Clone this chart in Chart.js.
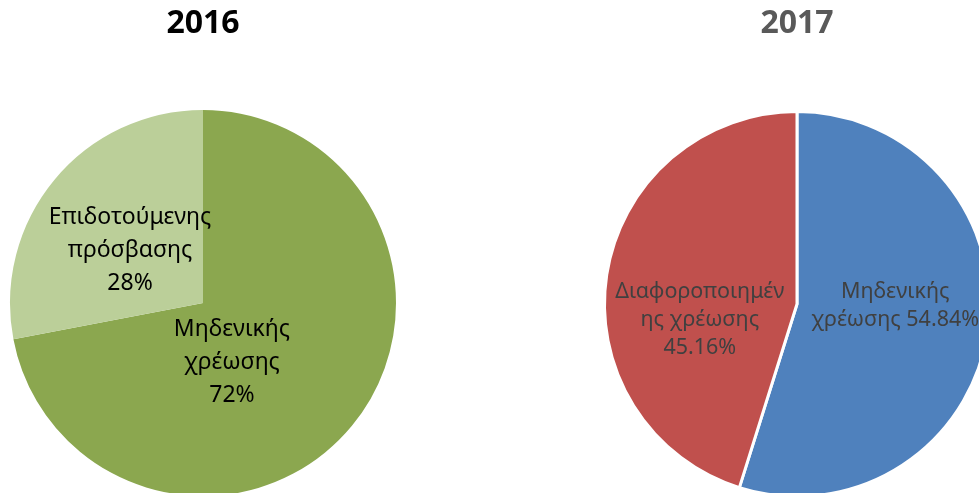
<!DOCTYPE html>
<html>
<head>
<meta charset="utf-8">
<script src="https://cdn.jsdelivr.net/npm/chart.js@4.4.1/dist/chart.umd.min.js"></script>
<style>
  html, body { margin: 0; padding: 0; background: #fff; overflow: hidden; }
  body { width: 979px; height: 493px; position: relative; }
  .pie { position: absolute; top: 0; height: 500px; }
  #pie2016 { left: 0; width: 406px; }
  #pie2017 { left: 593px; width: 408px; }
</style>
</head>
<body>
<div class="pie" id="pie2016"><canvas id="chart2016"></canvas></div>
<div class="pie" id="pie2017"><canvas id="chart2017"></canvas></div>

<script>
// 2016 split
const categories2016 = ["Μηδενικής χρέωσης", "Επιδοτούμενης πρόσβασης"];
const values2016 = [72, 28];
const colors2016 = ["#8BA74F", "#BBCF99"];

// 2017 split
const categories2017 = ["Μηδενικής χρέωσης", "Διαφοροποιημένης χρέωσης"];
const values2017 = [54.84, 45.16];
const colors2017 = ["#4F81BD", "#C0504D"];

// how each slice label wraps; {v} is the slice value
const lines2016 = [["Μηδενικής", "χρέωσης", "{v}"], ["Επιδοτούμενης", "πρόσβασης", "{v}"]];
const lines2017 = [["Μηδενικής", "χρέωσης {v}"], ["Διαφοροποιημέν", "ης χρέωσης", "{v}"]];

const FONT = "'Noto Sans', 'Open Sans', sans-serif";

// draws the text labels inside the slices
const sliceLabels = {
    id: "sliceLabels",
    afterDatasetsDraw(chart, args, opts) {
        let ctx = chart.ctx;
        let meta = chart.getDatasetMeta(0);
        let data = chart.data.datasets[0].data;
        ctx.save();
        ctx.font = opts.size + "px " + FONT;
        ctx.fillStyle = opts.color;
        ctx.textAlign = "center";
        ctx.textBaseline = "middle";
        meta.data.forEach((arc, i) => {
            let r = arc.outerRadius;
            let cx = arc.x + opts.at[i][0] * r;
            let cy = arc.y + opts.at[i][1] * r;
            let val = data[i].toFixed(opts.decimals) + "%";
            let lines = opts.lines[i].map(l => l.replace("{v}", val));
            let top = cy - (lines.length - 1) * opts.lineHeight / 2;
            lines.forEach((line, j) => ctx.fillText(line, cx, top + j * opts.lineHeight));
        });
        ctx.restore();
    }
};

function makePie(id, title, titleColor, cats, vals, colors, border, labelOpts, padTop, padBottom) {
    let ctx = document.getElementById(id).getContext("2d");
    return new Chart(ctx, {
        type: "pie",
        data: {
            labels: cats,
            datasets: [{
                data: vals,
                backgroundColor: colors,
                borderColor: "#ffffff",
                borderWidth: border
            }]
        },
        options: {
            responsive: true,
            maintainAspectRatio: false,
            animation: false,
            layout: { padding: { left: 10, right: 10, top: 0, bottom: padBottom } },
            plugins: {
                legend: { display: false },
                tooltip: { enabled: false },
                title: {
                    display: true,
                    text: title,
                    color: titleColor,
                    font: { family: FONT, size: 32, weight: "bold", lineHeight: 1.2 },
                    padding: { top: 5, bottom: padTop }
                },
                sliceLabels: labelOpts
            }
        },
        plugins: [sliceLabels]
    });
}

makePie("chart2016", "2016", "#000000", categories2016, values2016, colors2016, 0, {
    size: 23, lineHeight: 33, color: "#000000", decimals: 0,
    lines: lines2016,
    at: [[0.15, 0.306], [-0.378, -0.27]]
}, 66.6, 4);

makePie("chart2017", "2017", "#595959", categories2017, values2017, colors2017, 3, {
    size: 21.5, lineHeight: 28, color: "#404040", decimals: 2,
    lines: lines2017,
    at: [[0.51, 0.01], [-0.505, 0.083]]
}, 66.6, 2);
</script>
</body>
</html>
